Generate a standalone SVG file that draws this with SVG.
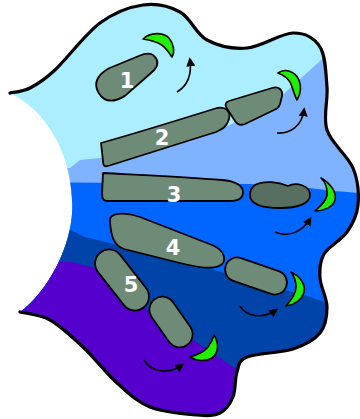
<svg xmlns="http://www.w3.org/2000/svg" width="360" height="419" viewBox="0 0 360 419">
  <style>
    .rib { fill: #6e8b78; stroke: #000; stroke-width: 1.8; stroke-linejoin: round; }
    .rib-dark { fill: #566f60; stroke: #000; stroke-width: 1.8; }
    .moon { fill: #22ee00; stroke: #000; stroke-width: 1.6; stroke-linejoin: round; }
    .num { fill: #fff; font-family: "DejaVu Sans", "Liberation Sans", sans-serif; font-weight: bold; font-size: 21px; text-anchor: middle; }
    .flow { fill: none; stroke: #000; stroke-width: 1.6; marker-end: url(#head); }
    .rim { fill: none; stroke: #000; stroke-width: 3.2; stroke-linecap: round; stroke-linejoin: round; }
  </style>
  <defs>
    <path id="rimPath" d="M10,93 C13.3,92.2 22.5,91.8 30,88 C37.5,84.2 43.3,80.8 55,70 C66.7,59.2 85.3,33.8 100,23 C114.7,12.2 129.7,6.8 143,5 C156.3,3.2 169.3,6.2 180,12 C190.7,17.8 195.8,34 207,40 C218.2,46 232.7,49.2 247,48 C261.3,46.8 280.8,33.2 293,33 C305.2,32.8 314.3,38 320,47 C325.7,56 325.8,73.2 327,87 C328.2,100.8 322.7,116.5 327,130 C331.3,143.5 347.8,155.5 353,168 C358.2,180.5 359,194.3 358,205 C357,215.7 352.7,223.8 347,232 C341.3,240.2 328.5,246.3 324,254 C319.5,261.7 319.5,269.2 320,278 C320.5,286.8 327,297.8 327,307 C327,316.2 325.7,326 320,333 C314.3,340 305.2,345 293,349 C280.8,353 256.3,353.2 247,357 C237.7,360.8 239.3,365.3 237,372 C234.7,378.7 235.8,390.2 233,397 C230.2,403.8 226,410 220,413 C214,416 208.7,416 197,415 C185.3,414 163.3,412.3 150,407 C136.7,401.7 128.2,393 117,383 C105.8,373 94.2,357.5 83,347 C71.8,336.5 60.5,325.8 50,320 C39.5,314.2 25,313.3 20,312"/>
    <clipPath id="bodyClip">
      <path d="M10,93 C13.3,92.2 22.5,91.8 30,88 C37.5,84.2 43.3,80.8 55,70 C66.7,59.2 85.3,33.8 100,23 C114.7,12.2 129.7,6.8 143,5 C156.3,3.2 169.3,6.2 180,12 C190.7,17.8 195.8,34 207,40 C218.2,46 232.7,49.2 247,48 C261.3,46.8 280.8,33.2 293,33 C305.2,32.8 314.3,38 320,47 C325.7,56 325.8,73.2 327,87 C328.2,100.8 322.7,116.5 327,130 C331.3,143.5 347.8,155.5 353,168 C358.2,180.5 359,194.3 358,205 C357,215.7 352.7,223.8 347,232 C341.3,240.2 328.5,246.3 324,254 C319.5,261.7 319.5,269.2 320,278 C320.5,286.8 327,297.8 327,307 C327,316.2 325.7,326 320,333 C314.3,340 305.2,345 293,349 C280.8,353 256.3,353.2 247,357 C237.7,360.8 239.3,365.3 237,372 C234.7,378.7 235.8,390.2 233,397 C230.2,403.8 226,410 220,413 C214,416 208.7,416 197,415 C185.3,414 163.3,412.3 150,407 C136.7,401.7 128.2,393 117,383 C105.8,373 94.2,357.5 83,347 C71.8,336.5 60.5,325.8 50,320 C39.5,314.2 25,313.3 20,312 C50,290 75,240 72,200 C70,150 45,110 10,93 Z"/>
    </clipPath>
    <marker id="head" viewBox="0 0 10 10" refX="7" refY="5" markerWidth="9" markerHeight="9" markerUnits="userSpaceOnUse" orient="auto">
      <path d="M0,0 L10,5 L0,10 Z" fill="#000"/>
    </marker>
  </defs>

  <!-- colour zones of the body -->
  <g id="zones" clip-path="url(#bodyClip)">
    <rect x="0" y="0" width="360" height="419" fill="#aaeeff"/>
    <path d="M0,168 L70,168 L80,160 L110,157 L230,125 L280,97 L330,52 L360,40 L360,419 L0,419 Z" fill="#80b3ff"/>
    <path d="M0,182 L250,184 L300,187 L335,191 L360,193 L360,419 L0,419 Z" fill="#0066ff"/>
    <path d="M0,230 L70,230 L85,237 L110,243 L200,266 L310,297 L360,314 L360,419 L0,419 Z" fill="#0044aa"/>
    <path d="M0,262 L72,262 L95,268 L150,312 L193,340 L233,367 L360,400 L360,419 L0,419 Z" fill="#5500cc"/>
  </g>
  <use id="rim" href="#rimPath" class="rim"/>

  <!-- numbered bars -->
  <g id="bar-1">
    <path class="rib" transform="translate(127,76) rotate(-31)" d="M-33,0 C-33,-12 -24,-16 -12,-16 L21,-11 C29,-10 34,-6 34,0 C34,6 29,9 21,10 L-12,16 C-24,16 -33,12 -33,0 Z"/>
    <text class="num" x="127" y="88">1</text>
  </g>
  <g id="bar-2">
    <path class="rib" d="M101,143 C140,132 185,118 217,108 C226,106 231,112 229,119 C227,126 223,129 216,132 L108,166 C104,167 103,165 103,161 Z"/>
    <text class="num" x="162" y="145">2</text>
  </g>
  <g id="bar-2b">
    <path class="rib" d="M229,101 L272,88 C279,86 283,90 282,96 L280,104 C279,107 277,109 274,110 L245,124 C240,126 237,124 235,121 L226,107 C225,104 226,102 229,101 Z"/>
  </g>
  <g id="bar-3">
    <path class="rib" d="M103,173 C140,175 185,177 222,180 C236,181 243,186 243,192 C243,198 238,201 230,201 L107,201 C103,201 102,198 102,194 Z"/>
    <text class="num" x="174" y="202">3</text>
  </g>
  <g id="bar-3b">
    <path class="rib-dark" d="M255,185 C264,180 279,182 288,186 C296,182 310,185 310,195 C310,204 297,208 280,208 C263,208 250,205 250,195 C250,190 252,187 255,185 Z"/>
  </g>
  <g id="bar-4">
    <path class="rib" d="M110,222 C108,212 124,212 140,217 L212,245 C225,250 228,262 219,266 C211,270 196,267 180,263 L124,249 C114,246 111,236 110,222 Z"/>
    <text class="num" x="173" y="255">4</text>
  </g>
  <g id="bar-4b">
    <rect class="rib" x="-32" y="-12" width="64" height="24" rx="12" transform="translate(256,276) rotate(19)"/>
  </g>
  <g id="bar-5">
    <rect class="rib" x="-35" y="-14" width="70" height="28" rx="14" transform="translate(122,280) rotate(52)"/>
    <text class="num" x="131" y="292">5</text>
  </g>
  <g id="bar-5b">
    <rect class="rib" x="-28" y="-13" width="56" height="26" rx="13" transform="translate(171,322) rotate(55)"/>
  </g>

  <!-- green crescents -->
  <g id="crescent-1"><path class="moon" d="M143,39 C150,32 163,32 169,38 C174,44 175,52 172,57 C169,53 166,47 160,44 C155,41 149,40 143,39 Z"/></g>
  <g id="crescent-2"><path class="moon" d="M278,73 C285,68 295,71 299,80 C302,88 300,95 297,100 C294,95 293,88 290,82 C287,77 283,75 278,73 Z"/></g>
  <g id="crescent-3"><path class="moon" d="M321,178 C330,183 337,192 335,200 C333,207 324,211 315,211 C322,205 328,199 327,192 C327,186 324,181 321,178 Z"/></g>
  <g id="crescent-4"><path class="moon" d="M291,272 C300,276 306,285 304,292 C302,300 294,305 286,306 C291,300 296,294 296,287 C296,281 294,276 291,272 Z"/></g>
  <g id="crescent-5"><path class="moon" d="M214,335 C219,343 219,353 212,358 C206,362 196,361 190,357 C197,355 204,352 208,347 C211,343 213,339 214,335 Z"/></g>

  <!-- curved arrows -->
  <g id="connectors">
    <path class="flow" d="M177,92 C187,86 192,76 190,60"/>
    <path class="flow" d="M277,133 C290,134 302,126 304,110"/>
    <path class="flow" d="M275,232 C288,238 302,232 310,219"/>
    <path class="flow" d="M240,306 C246,316 262,320 276,310"/>
    <path class="flow" d="M144,360 C151,372 168,375 182,365"/>
  </g>
</svg>
